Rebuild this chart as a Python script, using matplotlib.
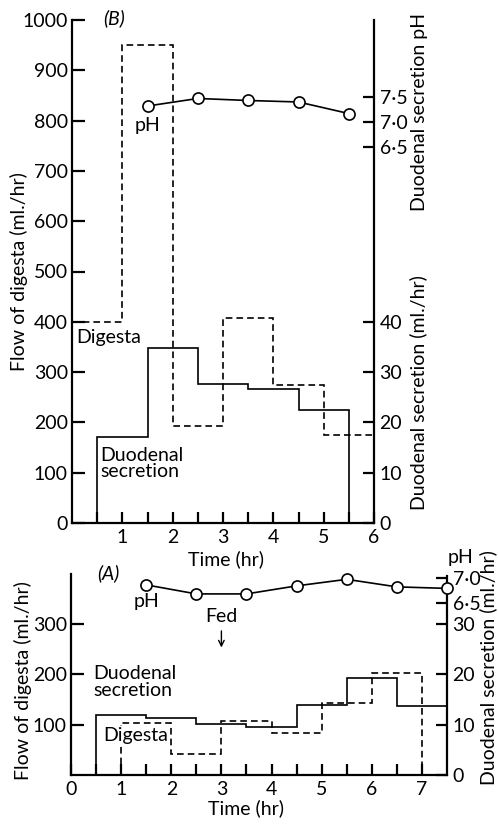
import matplotlib
matplotlib.use("Agg")
import matplotlib.pyplot as plt
from matplotlib.ticker import FixedLocator, FixedFormatter

plt.rcParams['font.family'] = ['Lato', 'DejaVu Sans']
plt.rcParams['lines.scale_dashes'] = False

# ---------------- data ----------------
# Panel B (top)
b_digesta_edges = [0, 1, 2, 3, 4, 5, 6]
b_digesta = [400, 950, 193, 407, 274, 174]           # ml/hr (left axis)
b_secr_edges = [0.5, 1.5, 2.5, 3.5, 4.5, 5.5]
b_secretion = [17.1, 34.7, 27.6, 26.6, 22.4]          # ml/hr (right axis)
b_ph_time = [1.5, 2.5, 3.5, 4.5, 5.5]
b_ph = [7.32, 7.47, 7.43, 7.40, 7.17]

# Panel A (bottom)
a_digesta_edges = [1, 2, 3, 4, 5, 6, 7]
a_digesta = [103, 42, 107, 84, 144, 202]
a_secr_edges = [0.5, 1.5, 2.5, 3.5, 4.5, 5.5, 6.5, 7.5]
a_secretion = [11.9, 11.3, 10.1, 9.6, 13.9, 19.3, 13.7]
a_ph_time = [1.5, 2.5, 3.5, 4.5, 5.5, 6.5, 7.5]
a_ph = [6.87, 6.69, 6.69, 6.85, 6.98, 6.83, 6.80]

b_left_ticks = [0, 100, 200, 300, 400, 500, 600, 700, 800, 900, 1000]
b_secr_ticks = [0, 10, 20, 30, 40]
b_ph_ticks = [6.5, 7.0, 7.5]
b_ph_labels = ['6·5', '7·0', '7·5']
a_left_ticks = [100, 200, 300]
a_secr_ticks = [0, 10, 20, 30]
a_ph_ticks = [6.5, 7.0]
a_ph_labels = ['6·5', '7·0']

FS = 14
LW = 1.2
SPW = 1.6
DASH = (0, (4.8, 2.9))

fig = plt.figure(figsize=(4.98, 8.25), dpi=100)


def style_axes(ax, ax2, ax3):
    ax.patch.set_visible(False)
    for a in (ax, ax2, ax3):
        for s in a.spines.values():
            s.set_visible(False)
    ax.spines['left'].set_visible(True)
    ax.spines['bottom'].set_visible(True)
    ax2.spines['right'].set_visible(True)
    for s in (ax.spines['left'], ax.spines['bottom'], ax2.spines['right']):
        s.set_linewidth(SPW)
    ax.tick_params(axis='both', which='both', direction='in', width=SPW,
                   labelsize=FS, top=False, right=False)
    ax.tick_params(axis='y', length=9, pad=3)
    ax.tick_params(axis='x', which='both', length=8, pad=4)
    for a in (ax2, ax3):
        a.tick_params(axis='y', direction='in', length=8, width=SPW,
                      labelsize=FS, pad=4, left=False, right=True)
    ax3.tick_params(axis='x', bottom=False, labelbottom=False)
    ax2.tick_params(axis='x', bottom=False, labelbottom=False)


WHITE = dict(facecolor='white', edgecolor='none', pad=0.5)

# ---------------- Panel B ----------------
axB = fig.add_axes([72 / 498, 1 - 523 / 825, 302 / 498, 503 / 825])
axB2 = axB.twinx()
axB3 = axB.twinx()
axB.set_xlim(0, 6)
axB.set_ylim(0, 1000)
axB2.set_ylim(0, 100)
axB3.set_ylim(7.5 - 8.47, 7.5 + 1.53)
style_axes(axB, axB2, axB3)

axB.stairs(b_digesta, b_digesta_edges, baseline=None, color='black',
           lw=LW, linestyle=DASH)
axB2.stairs(b_secretion, b_secr_edges, baseline=0, color='black', lw=LW)
axB3.plot(b_ph_time, b_ph, '-o', color='black', lw=LW, ms=8,
          mfc='white', mec='black', mew=1.2, zorder=5)

axB.xaxis.set_major_locator(FixedLocator([1, 2, 3, 4, 5, 6]))
axB.xaxis.set_minor_locator(FixedLocator([0.5, 1.5, 2.5, 3.5, 4.5, 5.5]))
axB.set_yticks(b_left_ticks)
axB2.set_yticks(b_secr_ticks)
axB3.yaxis.set_major_locator(FixedLocator(b_ph_ticks))
axB3.yaxis.set_major_formatter(FixedFormatter(b_ph_labels))

axB.set_ylabel('Flow of digesta (ml./hr)', fontsize=FS)
axB.yaxis.set_label_coords((28 - 72) / 302, 0.50)
axB.set_xlabel('Time (hr)', fontsize=FS)
axB.xaxis.set_label_coords((226 - 72) / 302, (523 - 550) / 503)

fig.text(419 / 498, 1 - 112 / 825, 'Duodenal secretion pH', rotation=90,
         ha='center', va='center', fontsize=FS)
fig.text(418 / 498, 1 - 393 / 825, 'Duodenal secretion (ml./hr)', rotation=90,
         ha='center', va='center', fontsize=FS)

fig.text(114 / 498, 1 - 18 / 825, '(B)', style='italic', ha='center',
         va='center', fontsize=FS)
axB.text(1.5, 790, 'pH', ha='center', va='center', fontsize=FS)
axB.text(0.08, 368, 'Digesta', ha='left', va='center', fontsize=FS)
axB.text(0.56, 152, 'Duodenal\nsecretion', ha='left', va='top', fontsize=FS,
         linespacing=0.95)

# ---------------- Panel A ----------------
axA = fig.add_axes([71 / 498, 1 - 775 / 825, 376 / 498, 201.2 / 825])
axA2 = axA.twinx()
axA3 = axA.twinx()
axA.set_xlim(0, 7.5)
axA.set_ylim(0, 400)
axA2.set_ylim(0, 40)
axA3.set_ylim(7.0 - 3.91, 7.0 + 0.09)
style_axes(axA, axA2, axA3)
axA2.spines['right'].set_bounds(0, 39.5)

axA.stairs(a_digesta, a_digesta_edges, baseline=0, color='black',
           lw=LW, linestyle=DASH)
axA2.stairs(a_secretion, a_secr_edges, baseline=0, color='black', lw=LW)
axA3.plot(a_ph_time, a_ph, '-o', color='black', lw=LW, ms=8,
          mfc='white', mec='black', mew=1.2, zorder=5, clip_on=False)

axA.xaxis.set_major_locator(FixedLocator([0, 1, 2, 3, 4, 5, 6, 7]))
axA.xaxis.set_minor_locator(FixedLocator([0.5, 1.5, 2.5, 3.5, 4.5, 5.5, 6.5]))
axA.set_yticks(a_left_ticks)
axA2.set_yticks(a_secr_ticks)
axA3.yaxis.set_major_locator(FixedLocator(a_ph_ticks))
axA3.yaxis.set_major_formatter(FixedFormatter(a_ph_labels))

axA.set_ylabel('Flow of digesta (ml./hr)', fontsize=FS)
axA.yaxis.set_label_coords((32 - 71) / 376, 0.47)
axA.set_xlabel('Time (hr)', fontsize=FS)
axA.xaxis.set_label_coords((246 - 71) / 376, (775 - 799) / 201.2)

fig.text(488 / 498, 1 - 668 / 825, 'Duodenal secretion (ml./hr)', rotation=90,
         ha='center', va='center', fontsize=FS)
fig.text(460 / 498, 1 - 557 / 825, 'pH', ha='center', va='center', fontsize=FS)

fig.text(108 / 498, 1 - 573 / 825, '(A)', style='italic', ha='center',
         va='center', fontsize=FS)
axA.text(1.5, 345, 'pH', ha='center', va='center', fontsize=FS)
axA.text(3.0, 315, 'Fed', ha='center', va='center', fontsize=FS)
axA.annotate('', xy=(3.0, 248), xytext=(3.0, 292),
             arrowprops=dict(arrowstyle='->', color='black', lw=1.0))
axA.text(0.45, 185, 'Duodenal\nsecretion', ha='left', va='center', fontsize=FS,
         linespacing=0.95)
t = axA.text(0.65, 79, 'Digesta', ha='left', va='center', fontsize=FS,
             bbox=WHITE, zorder=3)

fig.savefig('out.png', dpi=100)
